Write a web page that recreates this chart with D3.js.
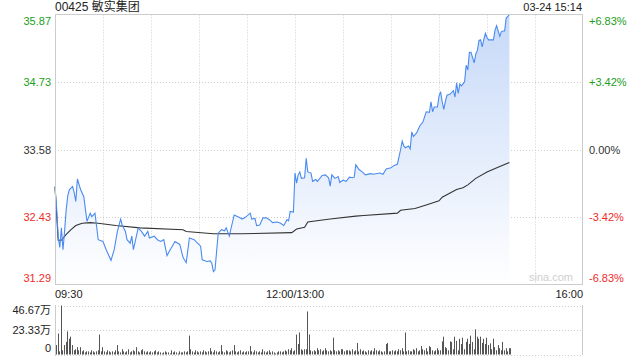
<!DOCTYPE html>
<html><head><meta charset="utf-8">
<script src="https://cdn.jsdelivr.net/npm/d3@7/dist/d3.min.js"></script>
<style>
html,body{margin:0;padding:0;background:#fff;}
svg{display:block;font-family:"Liberation Sans",Arial,"Noto Sans CJK SC",sans-serif;}
</style></head>
<body><svg id="c" width="640" height="360"></svg>
<script>
const title = "00425 敏实集团";
const stamp = "03-24 15:14";
const prevClose = 33.58;
const priceTicks = [35.87, 34.73, 33.58, 32.43, 31.29];
const pctTicks = ["+6.83%", "+3.42%", "0.00%", "-3.42%", "-6.83%"];
const timeTicks = [0, 150, 330];
const timeLabels = ["09:30", "12:00/13:00", "16:00"];
const volTicks = [46.67, 23.33, 0];
const volLabels = ["46.67万", "23.33万", "0"];
// [trading minute from 09:30, price]
const pricePts = [[0,32.95],[1,32.60],[2,32.10],[3,31.92],[4,32.25],[5,31.88],[6,32.20],[7,32.56],[8,32.80],[9,32.90],[11,32.95],[12,32.85],[13,32.70],[14,33.08],[16,32.90],[18,32.78],[20,32.36],[22,32.50],[23,32.44],[25,32.50],[27,32.05],[30,32.02],[32,31.88],[35,31.70],[37,31.88],[39,32.19],[41,32.40],[42,32.30],[44,32.19],[45,32.05],[47,31.99],[48,32.11],[49,31.88],[52,32.25],[54,32.19],[56,32.11],[58,32.19],[59,32.08],[62,32.11],[64,32.05],[66,32.02],[68,32.05],[70,31.78],[72,31.88],[75,32.02],[78,31.97],[80,31.75],[82,31.66],[84,32.08],[87,32.05],[88,32.02],[91,31.94],[92,31.71],[95,31.68],[97,31.69],[98,31.65],[99,31.51],[100,31.54],[101,31.85],[102,32.16],[104,32.22],[106,32.20],[107,32.25],[109,32.11],[110,32.24],[112,32.47],[115,32.43],[117,32.40],[119,32.43],[122,32.50],[123,32.40],[125,32.41],[126,32.29],[128,32.30],[130,32.42],[132,32.42],[134,32.39],[136,32.34],[139,32.35],[141,32.33],[143,32.29],[145,32.39],[146,32.37],[147,32.53],[149,32.52],[150,33.18],[151,33.01],[152,33.15],[153,33.20],[154,33.09],[156,33.10],[157,33.43],[158,33.20],[160,33.18],[161,33.04],[163,33.07],[164,33.04],[167,33.14],[169,33.15],[171,33.10],[172,32.96],[173,33.15],[175,33.09],[177,33.12],[178,33.02],[180,33.06],[182,33.04],[184,33.11],[186,33.10],[187,33.11],[188,33.32],[190,33.24],[192,33.20],[194,33.15],[197,33.17],[199,33.16],[203,33.18],[205,33.16],[207,33.25],[210,33.27],[212,33.31],[214,33.33],[216,33.58],[217,33.72],[218,33.64],[219,33.61],[221,33.64],[222,33.59],[223,33.88],[224,33.80],[226,33.86],[228,33.98],[230,34.05],[232,34.22],[234,34.21],[235,34.39],[236,34.22],[237,34.30],[239,34.30],[240,34.48],[241,34.56],[242,34.39],[243,34.26],[244,34.40],[245,34.50],[247,34.52],[249,34.58],[250,34.47],[251,34.71],[252,34.53],[253,34.69],[254,34.66],[256,34.73],[257,35.01],[258,34.93],[259,35.23],[260,35.23],[262,35.05],[263,35.20],[264,35.26],[265,35.43],[266,35.44],[267,35.32],[268,35.45],[269,35.55],[270,35.48],[271,35.44],[274,35.44],[275,35.60],[276,35.68],[277,35.59],[278,35.50],[279,35.58],[280,35.59],[281,35.59],[282,35.81],[283,35.84],[284,35.87]];
const avgPts = [[0,32.95],[2,32.04],[4,32.04],[7,32.14],[10,32.22],[13,32.29],[17,32.33],[22,32.34],[27,32.33],[38,32.29],[53,32.25],[80,32.22],[82,32.19],[99,32.15],[116,32.15],[148,32.17],[151,32.23],[156,32.26],[158,32.35],[166,32.38],[172,32.40],[188,32.45],[193,32.46],[214,32.50],[216,32.55],[225,32.58],[232,32.64],[240,32.71],[242,32.77],[251,32.90],[255,32.93],[258,32.98],[263,33.09],[270,33.20],[278,33.29],[284,33.36]];
// volume per minute, 万股
const volumes = [9,20,3,46.67,4,9,12,22,15,17,
9,4,5,7,4,7,3,4,2,3,
3,2,4,3,2,3,4,19,3,7,
3,2,4,3,2,3,2,4,9,3,
2,5,3,2,3,5,2,3,4,3,
7,3,2,4,5,3,2,3,2,3,
2,3,4,2,3,2,1,2,3,2,
2,1,4,2,3,2,1,3,2,2,
3,2,3,18,5,3,2,4,3,2,
3,2,4,3,2,3,6,3,2,4,
3,2,3,9,3,2,4,3,2,3,
4,9,3,2,3,4,2,3,2,3,
3,8,3,2,4,3,2,3,2,5,
3,2,3,4,2,3,2,1,2,3,
3,2,3,4,3,5,4,6,3,4,
19,10,21,5,4,5,5,41,19,4,
3,4,3,6,4,5,3,4,6,4,
3,4,3,16,4,3,4,3,5,5,
3,4,4,4,3,5,3,4,11,3,
5,3,4,3,2,4,3,4,3,6,
4,3,4,3,2,3,10,11,3,3,
4,3,4,3,5,4,6,3,21,3,
4,3,3,5,4,6,3,4,8,5,
4,6,3,8,7,4,3,4,6,4,
4,12.5,17,7,6,4,12.5,12,5,17,
13,4,15,10,16,5,12,15,10,18,
12,5,24,17,15,17,11,15,10,16,
9,10.6,5,15,7,4,9,6,4,12,
4,6,3,6,6];

const svg = d3.select("#c");
const L = 55, R = 583, T = 14.5, B = 284.5;
const x = d3.scaleLinear().domain([0, 330]).range([L, R]);
const y = d3.scaleLinear().domain([31.29, 35.87]).range([B, T]);
const vy = d3.scaleLinear().domain([0, 46.67]).range([354.5, 305.5]);

const defs = svg.append("defs");
const g = defs.append("linearGradient").attr("id","fillg").attr("gradientUnits","userSpaceOnUse")
  .attr("x1",0).attr("y1",T).attr("x2",0).attr("y2",B);
g.append("stop").attr("offset","0%").attr("stop-color","#c6d9f8");
g.append("stop").attr("offset","100%").attr("stop-color","#ffffff");

// gridlines price
const grid = svg.append("g").attr("stroke","#cfcfcf").attr("stroke-dasharray","1,2").attr("stroke-width",1);
d3.range(30, 330, 30).forEach(t => {
  grid.append("line").attr("x1", Math.round(x(t))+0.5).attr("x2", Math.round(x(t))+0.5).attr("y1", T).attr("y2", B);
});
priceTicks.slice(1, 4).forEach(p => {
  grid.append("line").attr("x1", L).attr("x2", R).attr("y1", Math.round(y(p))+0.5).attr("y2", Math.round(y(p))+0.5);
});

// area + lines
const area = d3.area().x(d => x(d[0])).y0(B).y1(d => y(d[1]));
svg.append("path").datum(pricePts).attr("d", area).attr("fill","url(#fillg)");
const line = d3.line().x(d => x(d[0])).y(d => y(d[1]));
svg.append("path").datum(avgPts).attr("d", line).attr("fill","none").attr("stroke","#333").attr("stroke-width",1.1);
svg.append("path").datum(pricePts).attr("d", line).attr("fill","none").attr("stroke","#4b8bf0").attr("stroke-width",1.1);

// border
svg.append("rect").attr("x", L+0.5).attr("y", T).attr("width", R-L-1).attr("height", B-T)
  .attr("fill","none").attr("stroke","#cccccc");

// watermark
svg.append("text").attr("x", 573).attr("y", 281).attr("text-anchor","end").attr("font-size",11)
  .attr("fill","#cfcfcf").text("sina.com");

// title + stamp
svg.append("text").attr("x", L).attr("y", 11).attr("font-size",12).attr("fill","#222").text(title);
svg.append("text").attr("x", R-1).attr("y", 11).attr("text-anchor","end").attr("font-size",11).attr("fill","#222").text(stamp);

// price axis labels
const colorFor = p => p > prevClose ? "#1aa01a" : (p < prevClose ? "#ee2b2b" : "#333");
priceTicks.forEach((p, i) => {
  let yy = y(p) + 4;
  if (i === 0) yy += 6.5;
  if (i === priceTicks.length - 1) yy -= 6.5;
  svg.append("text").attr("x", 51).attr("y", yy).attr("text-anchor","end").attr("font-size",11)
    .attr("fill", colorFor(p)).text(p.toFixed(2));
  svg.append("text").attr("x", 589).attr("y", yy).attr("text-anchor","start").attr("font-size",11)
    .attr("fill", colorFor(p)).text(pctTicks[i]);
});

// time labels
timeTicks.forEach((t, i) => {
  svg.append("text").attr("x", x(t)).attr("y", 298)
    .attr("text-anchor", i === 0 ? "start" : (i === timeTicks.length-1 ? "end" : "middle"))
    .attr("font-size",11).attr("fill","#222").text(timeLabels[i]);
});

// volume panel
const vg = svg.append("g").attr("stroke","#cfcfcf").attr("stroke-dasharray","1,2");
volTicks.forEach(v => {
  vg.append("line").attr("x1", L).attr("x2", R).attr("y1", Math.round(vy(v))+0.5).attr("y2", Math.round(vy(v))+0.5);
});
svg.append("line").attr("x1", L+0.5).attr("x2", L+0.5).attr("y1", 305).attr("y2", 355).attr("stroke","#cccccc");
svg.append("line").attr("x1", R-0.5).attr("x2", R-0.5).attr("y1", 305).attr("y2", 355).attr("stroke","#cccccc");
svg.append("g").selectAll("rect").data(volumes).join("rect")
  .attr("x", (d, i) => Math.round(x(i)) + 1)
  .attr("width", 1)
  .attr("y", d => vy(d))
  .attr("height", d => vy(0) - vy(d))
  .attr("fill", "#555");
volTicks.forEach((v, i) => {
  let yy = vy(v) + 4;
  if (i === 0) yy += 4;
  if (i === volTicks.length - 1) yy -= 7;
  svg.append("text").attr("x", 51).attr("y", yy).attr("text-anchor","end").attr("font-size",11)
    .attr("fill","#222").text(volLabels[i]);
});
</script></body></html>
